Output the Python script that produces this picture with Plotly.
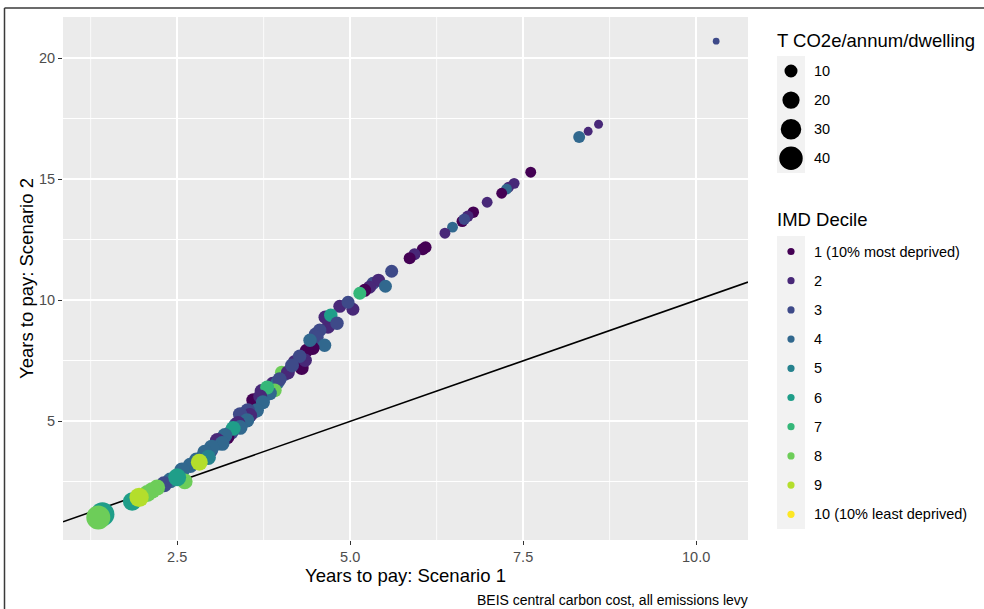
import math
import plotly.graph_objects as go

# ---------------- data ----------------
scenario1 = [10.29, 8.59, 8.44, 8.31, 7.61, 7.37, 7.29, 7.26, 7.19, 6.98,
             6.78, 6.70, 6.62, 6.65, 6.48, 6.37, 6.09, 6.05, 5.93, 5.86,
             5.60, 5.41, 5.28, 5.51, 5.21, 5.14, 5.04, 4.97, 4.64, 4.72,
             4.81, 4.56, 4.52, 4.63, 4.46, 4.37, 4.42, 4.35, 4.27, 4.01,
             4.10, 4.16, 3.98, 3.91, 3.84, 3.80, 3.60, 3.70, 3.74, 3.65,
             3.52, 3.55, 3.41, 3.51, 3.38, 3.41, 3.31, 3.19, 3.08, 3.15,
             3.00, 2.90, 2.95, 2.69, 2.82, 2.57, 2.40, 2.31, 2.61, 2.50,
             2.21, 2.14, 2.07, 1.85, 1.95, 1.42, 1.36]
scenario2 = [20.70, 17.27, 16.98, 16.74, 15.29, 14.83, 14.67, 14.59, 14.42, 14.05,
             13.64, 13.47, 13.26, 13.35, 13.02, 12.77, 12.19, 12.11, 11.90, 11.74,
             11.20, 10.83, 10.54, 10.58, 10.41, 10.29, 9.63, 9.92, 9.30, 9.38,
             9.05, 8.76, 8.47, 8.14, 8.02, 7.93, 8.35, 7.52, 7.69, 7.02,
             7.02, 7.31, 6.74, 6.28, 6.16, 6.40, 5.87, 6.03, 5.79, 5.45,
             5.45, 5.25, 5.29, 5.04, 4.92, 4.75, 4.71, 4.42, 4.21, 4.09,
             3.93, 3.72, 3.51, 3.18, 3.31, 2.98, 2.56, 2.40, 2.52, 2.69,
             2.27, 2.15, 2.02, 1.69, 1.86, 1.16, 1.03]
co2_per_dwelling = [0.3, 3, 3, 8, 6, 6, 6, 6, 6, 6,
                    7, 7, 7, 7, 6, 6, 8, 8, 8, 8,
                    10, 10, 10, 10, 10, 10, 10, 10, 11, 11,
                    11, 11, 11, 11, 11, 11, 11, 11, 11, 11,
                    12, 12, 12, 12, 12, 12, 12, 12, 12, 13,
                    13, 13, 13, 13, 13, 14, 14, 14, 14, 14,
                    15, 15, 15, 15, 19, 16, 16, 17, 16, 22,
                    17, 18, 19, 24, 26, 42, 42]
imd_decile = [3, 2, 2, 4, 1, 2, 2, 4, 1, 2,
              1, 2, 1, 3, 4, 2, 1, 1, 2, 1,
              3, 2, 2, 4, 1, 7, 2, 3, 2, 6,
              3, 3, 3, 4, 1, 1, 4, 2, 3, 8,
              2, 3, 3, 8, 4, 7, 1, 2, 4, 4,
              3, 2, 3, 4, 2, 4, 6, 4, 2, 4,
              4, 4, 5, 4, 9, 4, 4, 3, 8, 6,
              8, 8, 8, 6, 9, 6, 8]

# extra points filling the dense part of the band (drawn before the rows above)
extra_scenario1 = [4.20, 4.05, 3.88, 3.62, 3.45, 3.28, 3.22, 2.78, 4.50, 4.68,
                   4.30, 3.95, 3.58, 3.35, 2.98, 4.85, 5.33, 3.72]
extra_scenario2 = [7.45, 6.95, 6.55, 5.60, 5.10, 4.55, 4.35, 3.40, 8.60, 8.90,
                   7.20, 6.60, 5.35, 4.85, 3.80, 9.75, 10.70, 6.25]
extra_co2 = [12, 12, 12, 13, 13, 14, 14, 15, 11, 11,
             12, 12, 13, 14, 15, 10, 10, 12]
extra_decile = [2, 3, 2, 3, 4, 3, 1, 4, 3, 2,
                1, 4, 2, 3, 3, 2, 3, 2]

decile_labels = ["1 (10% most deprived)", "2", "3", "4", "5", "6", "7", "8", "9",
                 "10 (10% least deprived)"]
viridis10 = ["#440154", "#482878", "#3E4A89", "#31688E", "#26828E",
             "#1F9E89", "#35B779", "#6DCD59", "#B4DE2C", "#FDE725"]
size_breaks = [10, 20, 30, 40]

x_range = [0.85, 10.75]
y_range = [0.1, 21.7]
x_major, x_minor = 2.5, 1.25
y_major, y_minor = 5, 2.5

# ---------------- styling / layout helpers ----------------
W, H = 984, 609
L, R, T, B = 63, 748, 17, 540          # panel edges in pixels
FONT = "Liberation Sans, Arial, sans-serif"


def size_px(v):
    # area-proportional size scale (diameter in px)
    return math.sqrt(42.0 + 12.7 * v)


def px(xp):
    return (xp - L) / (R - L)


def py(yp):
    return (B - yp) / (B - T)


all_x = extra_scenario1 + scenario1
all_y = extra_scenario2 + scenario2
all_c = extra_co2 + co2_per_dwelling
all_d = extra_decile + imd_decile

fig = go.Figure()

# identity line (geom_abline, slope 1) drawn under the points
fig.add_trace(go.Scatter(x=x_range, y=x_range, mode="lines",
                         line=dict(color="black", width=1.6),
                         hoverinfo="skip", showlegend=False))

fig.add_trace(go.Scatter(
    x=all_x, y=all_y, mode="markers",
    marker=dict(size=[size_px(v) for v in all_c],
                color=[viridis10[d - 1] for d in all_d],
                opacity=1, line=dict(width=0)),
    showlegend=False,
    customdata=[[c, decile_labels[d - 1]] for c, d in zip(all_c, all_d)],
    hovertemplate="S1: %{x}<br>S2: %{y}<br>CO2: %{customdata[0]}<br>IMD: %{customdata[1]}<extra></extra>",
))

shapes = []
annotations = []

# minor vertical grid lines (odd multiples of the minor step)
k = 1
while k * x_minor < x_range[1]:
    if k % 2 == 1 and k * x_minor > x_range[0]:
        shapes.append(dict(type="line", xref="x", yref="paper", x0=k * x_minor,
                           x1=k * x_minor, y0=0, y1=1, layer="below",
                           line=dict(color="white", width=0.8)))
    k += 1

# outer frame (left and top edges visible)
shapes.append(dict(type="line", xref="paper", yref="paper", x0=px(4.5), x1=px(4.5),
                   y0=py(8), y1=py(640), line=dict(color="#3a3a3a", width=1.5)))
shapes.append(dict(type="line", xref="paper", yref="paper", x0=px(4.5), x1=px(1000),
                   y0=py(8), y1=py(8), line=dict(color="#3a3a3a", width=1.5)))

TITLE_SIZE = 18.5
TEXT_SIZE = 14.5

# ---- size legend ----
annotations.append(dict(text="T CO2e/annum/dwelling", xref="paper", yref="paper",
                        x=px(775), y=py(40), xanchor="left", yanchor="middle",
                        showarrow=False, font=dict(family=FONT, size=TITLE_SIZE, color="black")))
shapes.append(dict(type="rect", xref="paper", yref="paper", x0=px(777), x1=px(805),
                   y0=py(56), y1=py(173), fillcolor="#F2F2F2", line=dict(width=0),
                   layer="below"))
size_key_y0, size_key_dy = 71, 29.1
for i, s in enumerate(size_breaks):
    r = size_px(s) / 2
    yc = size_key_y0 + i * size_key_dy
    shapes.append(dict(type="circle", xref="paper", yref="paper",
                       xsizemode="pixel", ysizemode="pixel",
                       xanchor=px(791), yanchor=py(yc), x0=-r, x1=r, y0=-r, y1=r,
                       fillcolor="black", line=dict(width=0)))
    annotations.append(dict(text=str(s), xref="paper", yref="paper", x=px(812), y=py(yc),
                            xanchor="left", yanchor="middle", showarrow=False,
                            font=dict(family=FONT, size=TEXT_SIZE, color="black")))

# ---- IMD decile legend ----
annotations.append(dict(text="IMD Decile", xref="paper", yref="paper",
                        x=px(775), y=py(219), xanchor="left", yanchor="middle",
                        showarrow=False, font=dict(family=FONT, size=TITLE_SIZE, color="black")))
shapes.append(dict(type="rect", xref="paper", yref="paper", x0=px(777), x1=px(805),
                   y0=py(236), y1=py(529), fillcolor="#F2F2F2", line=dict(width=0),
                   layer="below"))
dec_key_y0, dec_key_dy = 251.5, 29.2
for i, (lab, col) in enumerate(zip(decile_labels, viridis10)):
    r = 3.6
    yc = dec_key_y0 + i * dec_key_dy
    shapes.append(dict(type="circle", xref="paper", yref="paper",
                       xsizemode="pixel", ysizemode="pixel",
                       xanchor=px(791), yanchor=py(yc), x0=-r, x1=r, y0=-r, y1=r,
                       fillcolor=col, line=dict(width=0)))
    annotations.append(dict(text=lab, xref="paper", yref="paper", x=px(812), y=py(yc),
                            xanchor="left", yanchor="middle", showarrow=False,
                            font=dict(family=FONT, size=TEXT_SIZE, color="black")))

# caption
annotations.append(dict(text="BEIS central carbon cost, all emissions levy",
                        xref="paper", yref="paper", x=px(750), y=py(600),
                        xanchor="right", yanchor="middle", showarrow=False,
                        font=dict(family=FONT, size=14, color="black")))

axis_common = dict(
    showgrid=True, gridcolor="white", gridwidth=1.6, zeroline=False,
    showline=False, ticks="outside", ticklen=4, tickwidth=1, tickcolor="#333333",
    tickfont=dict(family=FONT, size=14.5, color="#4D4D4D"),
)

fig.update_layout(
    width=W, height=H,
    margin=dict(l=L, r=W - R, t=T, b=H - B, autoexpand=False),
    paper_bgcolor="white", plot_bgcolor="#EBEBEB",
    showlegend=False,
    xaxis=dict(axis_common, range=x_range, tickmode="linear", tick0=0, dtick=x_major,
               tickformat=".1f",
               title=dict(text="Years to pay: Scenario 1", standoff=4,
                          font=dict(family=FONT, size=TITLE_SIZE, color="black"))),
    yaxis=dict(axis_common, range=y_range, tickmode="linear", tick0=0, dtick=y_major,
               minor=dict(dtick=y_minor, tick0=0, showgrid=True, gridcolor="white",
                          gridwidth=0.8, ticks=""),
               title=dict(text="Years to pay: Scenario 2", standoff=0,
                          font=dict(family=FONT, size=TITLE_SIZE, color="black"))),
    shapes=shapes,
    annotations=annotations,
)

fig.write_html("out.html", config={"displayModeBar": False},
               post_script="document.body.style.margin='0';document.body.style.overflow='hidden';")
